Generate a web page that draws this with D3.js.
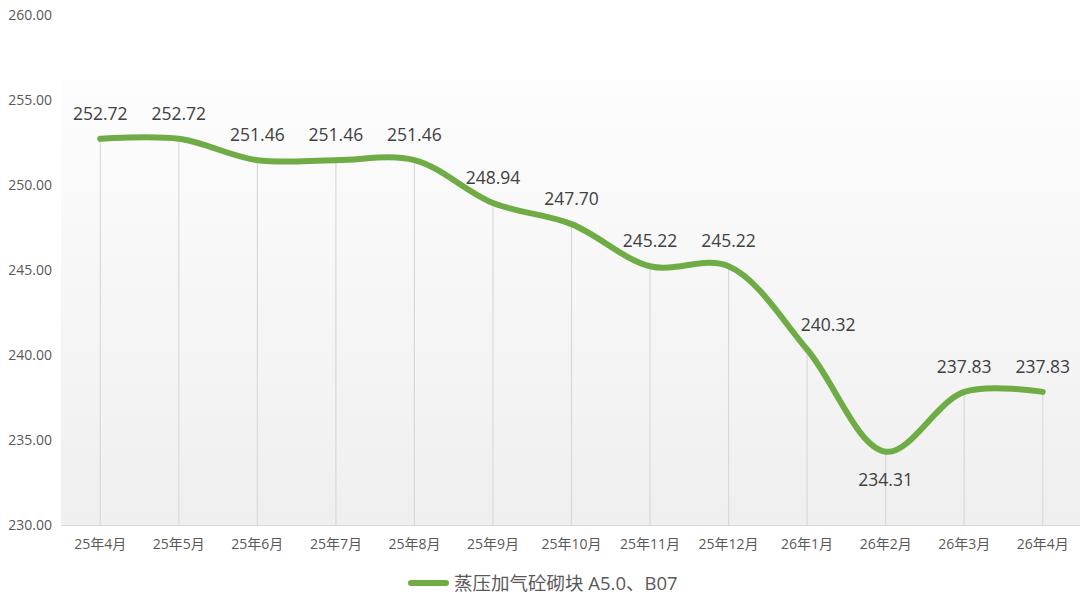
<!DOCTYPE html>
<html><head><meta charset="utf-8">
<script src="https://cdn.jsdelivr.net/npm/d3@7"></script>
<style>
html,body{margin:0;padding:0;background:#fff;}
text{font-family:"Open Sans","Noto Sans CJK SC",sans-serif;}
</style></head>
<body><svg id="c" width="1081" height="597"></svg>
<script>
const categories = ["25年4月","25年5月","25年6月","25年7月","25年8月","25年9月","25年10月","25年11月","25年12月","26年1月","26年2月","26年3月","26年4月"];
const values = [252.72,252.72,251.46,251.46,251.46,248.94,247.70,245.22,245.22,240.32,234.31,237.83,237.83];
const yTicks = [230,235,240,245,250,255,260];
const seriesName = "蒸压加气砼砌块 A5.0、B07";

const svg = d3.select("#c");
const pL = 61, pR = 1082, pT = 15, pB = 525;
const x = d3.scaleBand().domain(categories).range([pL, pR]);
const y = d3.scaleLinear().domain([230, 260]).range([pB, pT]);
const cx = d => x(d) + x.bandwidth()/2;

const defs = svg.append("defs");
const g = defs.append("linearGradient").attr("id","bg").attr("x1",0).attr("y1",0).attr("x2",0).attr("y2",1);
g.append("stop").attr("offset","0%").attr("stop-color","#fdfdfd");
g.append("stop").attr("offset","100%").attr("stop-color","#efefef");
svg.append("rect").attr("x", pL).attr("y", 79).attr("width", 1080-pL).attr("height", pB-79).attr("fill","url(#bg)");

// drop lines
svg.append("g").selectAll("line").data(categories).join("line")
  .attr("x1", d => cx(d)).attr("x2", d => cx(d))
  .attr("y1", (d,i) => y(values[i])).attr("y2", pB)
  .attr("stroke","#d9d9d9").attr("stroke-width",1.2);

// x axis
svg.append("line").attr("x1", pL).attr("x2", 1080).attr("y1", pB+0.5).attr("y2", pB+0.5).attr("stroke","#d9d9d9").attr("stroke-width",1.2);
svg.append("g").selectAll("text").data(categories).join("text")
  .attr("x", d => cx(d)).attr("y", 549).attr("text-anchor","middle")
  .attr("font-size", 14).attr("fill","#595959")
  .attr("font-family","\"Noto Sans CJK SC\",sans-serif").text(d => d);

// y labels
svg.append("g").selectAll("text").data(yTicks).join("text")
  .attr("x", 52).attr("y", d => y(d)+5).attr("text-anchor","end")
  .attr("font-size", 14).attr("fill","#595959").text(d => d.toFixed(2));

// line
const line = d3.line().x((d,i) => cx(categories[i])).y(d => y(d)).curve(d3.curveCatmullRom.alpha(0.5));
svg.append("path").datum(values).attr("d", line).attr("fill","none")
  .attr("stroke","#6fac46").attr("stroke-width",6).attr("stroke-linecap","round").attr("stroke-linejoin","round");

// data labels
svg.append("g").selectAll("text").data(values).join("text")
  .attr("x", (d,i) => cx(categories[i]) + (i === 9 ? 21 : 0))
  .attr("y", (d,i) => i === 10 ? y(d)+34 : y(d)-19)
  .attr("text-anchor","middle").attr("font-size",17.5).attr("fill","#404040")
  .text(d => d.toFixed(2));

// legend
svg.append("line").attr("x1",411).attr("x2",446).attr("y1",583).attr("y2",583).attr("stroke","#6fac46").attr("stroke-width",6).attr("stroke-linecap","round");
svg.append("text").attr("x",454).attr("y",590).attr("font-size",18.5).attr("fill","#595959")
  .attr("font-family","\"Noto Sans CJK SC\",sans-serif").text(seriesName);
</script></body></html>
